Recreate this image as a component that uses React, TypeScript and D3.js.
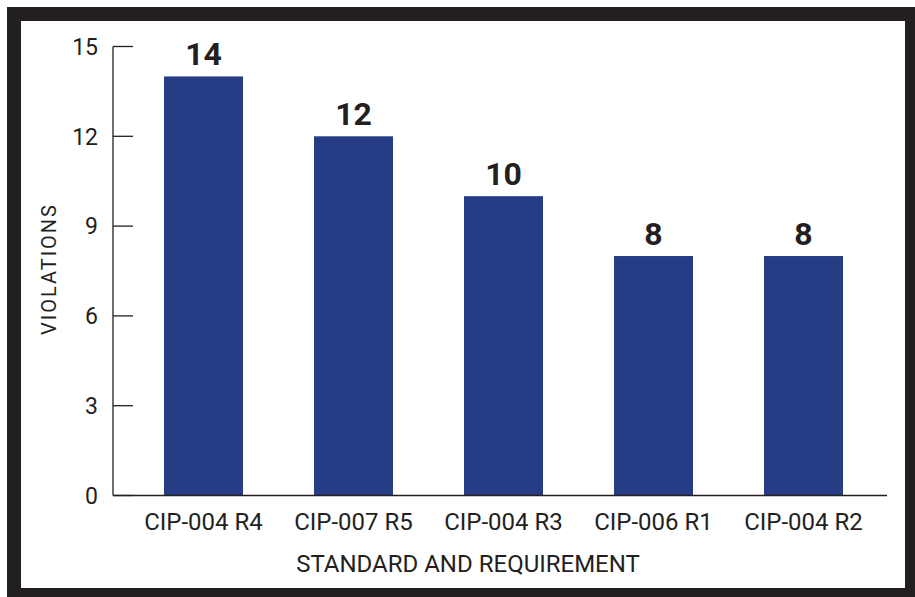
import { useEffect, useRef } from "react";
import * as d3 from "d3";

// violations per CIP standard/requirement
const categories = ["CIP-004 R4", "CIP-007 R5", "CIP-004 R3", "CIP-006 R1", "CIP-004 R2"];
const violations = [14, 12, 10, 8, 8];
const yTicks = [0, 3, 6, 9, 12, 15];

const W = 915;
const H = 597;
const INK = "#231f20";
const BAR = "#263c85";
const FONT = "Roboto, 'Noto Sans', sans-serif";

export default function App() {
  const svgRef = useRef<SVGSVGElement | null>(null);

  useEffect(() => {
    const svg = d3.select(svgRef.current);
    svg.selectAll("*").remove();

    // dark frame
    svg.append("rect").attr("x", 7).attr("y", 7).attr("width", W - 7).attr("height", H - 7).attr("fill", INK);
    svg.append("rect").attr("x", 21).attr("y", 21).attr("width", 884).attr("height", 567).attr("fill", "#fff");

    const x = d3
      .scaleBand<string>()
      .domain(categories)
      .range([128.5, 878.5])
      .paddingInner(0.4733)
      .paddingOuter(0.2367);
    const y = d3.scaleLinear().domain([0, 15]).range([495.5, 46.5]);
    const axisLeft = 113;

    // y axis: line + inward ticks
    const yg = svg.append("g");
    yg.append("line")
      .attr("x1", axisLeft)
      .attr("x2", axisLeft)
      .attr("y1", y(15))
      .attr("y2", y(0))
      .attr("stroke", INK)
      .attr("stroke-width", 1.3);
    yg.selectAll("line.tick")
      .data(yTicks)
      .join("line")
      .attr("class", "tick")
      .attr("x1", axisLeft)
      .attr("x2", axisLeft + 20)
      .attr("y1", (d) => y(d))
      .attr("y2", (d) => y(d))
      .attr("stroke", INK)
      .attr("stroke-width", 1.3);
    yg.selectAll("text")
      .data(yTicks)
      .join("text")
      .attr("x", 98)
      .attr("y", (d) => y(d))
      .attr("dy", "0.36em")
      .attr("text-anchor", "end")
      .attr("font-family", FONT)
      .attr("font-size", 23)
      .attr("fill", INK)
      .text((d) => d);

    // bars
    svg.append("g")
      .selectAll("rect")
      .data(violations)
      .join("rect")
      .attr("x", (_d, i) => x(categories[i]) as number)
      .attr("y", (d) => y(d))
      .attr("width", x.bandwidth())
      .attr("height", (d) => y(0) - y(d))
      .attr("fill", BAR);

    // value labels
    svg.append("g")
      .selectAll("text")
      .data(violations)
      .join("text")
      .attr("x", (_d, i) => (x(categories[i]) as number) + x.bandwidth() / 2)
      .attr("y", (d) => y(d) - 11)
      .attr("text-anchor", "middle")
      .attr("font-family", FONT)
      .attr("font-weight", 700)
      .attr("font-size", 32)
      .attr("fill", INK)
      .text((d) => d);

    // x axis line
    svg.append("line")
      .attr("x1", axisLeft)
      .attr("x2", 887)
      .attr("y1", y(0))
      .attr("y2", y(0))
      .attr("stroke", INK)
      .attr("stroke-width", 1.3);

    svg.append("g")
      .selectAll("text")
      .data(categories)
      .join("text")
      .attr("x", (d) => (x(d) as number) + x.bandwidth() / 2)
      .attr("y", 530)
      .attr("text-anchor", "middle")
      .attr("font-family", FONT)
      .attr("font-size", 24)
      .attr("fill", INK)
      .text((d) => d);

    // axis titles
    svg.append("text")
      .attr("x", 468)
      .attr("y", 572)
      .attr("text-anchor", "middle")
      .attr("font-family", FONT)
      .attr("font-size", 24)
      .attr("fill", INK)
      .text("STANDARD AND REQUIREMENT");

    svg.append("text")
      .attr("transform", "translate(56,269) rotate(-90)")
      .attr("text-anchor", "middle")
      .attr("font-family", FONT)
      .attr("font-size", 20)
      .attr("letter-spacing", 2)
      .attr("fill", INK)
      .text("VIOLATIONS");
  }, []);

  return (
    <svg
      ref={svgRef}
      width={W}
      height={H}
      viewBox={`0 0 ${W} ${H}`}
      style={{ position: "absolute", left: 0, top: 0 }}
      role="img"
      aria-label="Violations by standard and requirement"
    />
  );
}
